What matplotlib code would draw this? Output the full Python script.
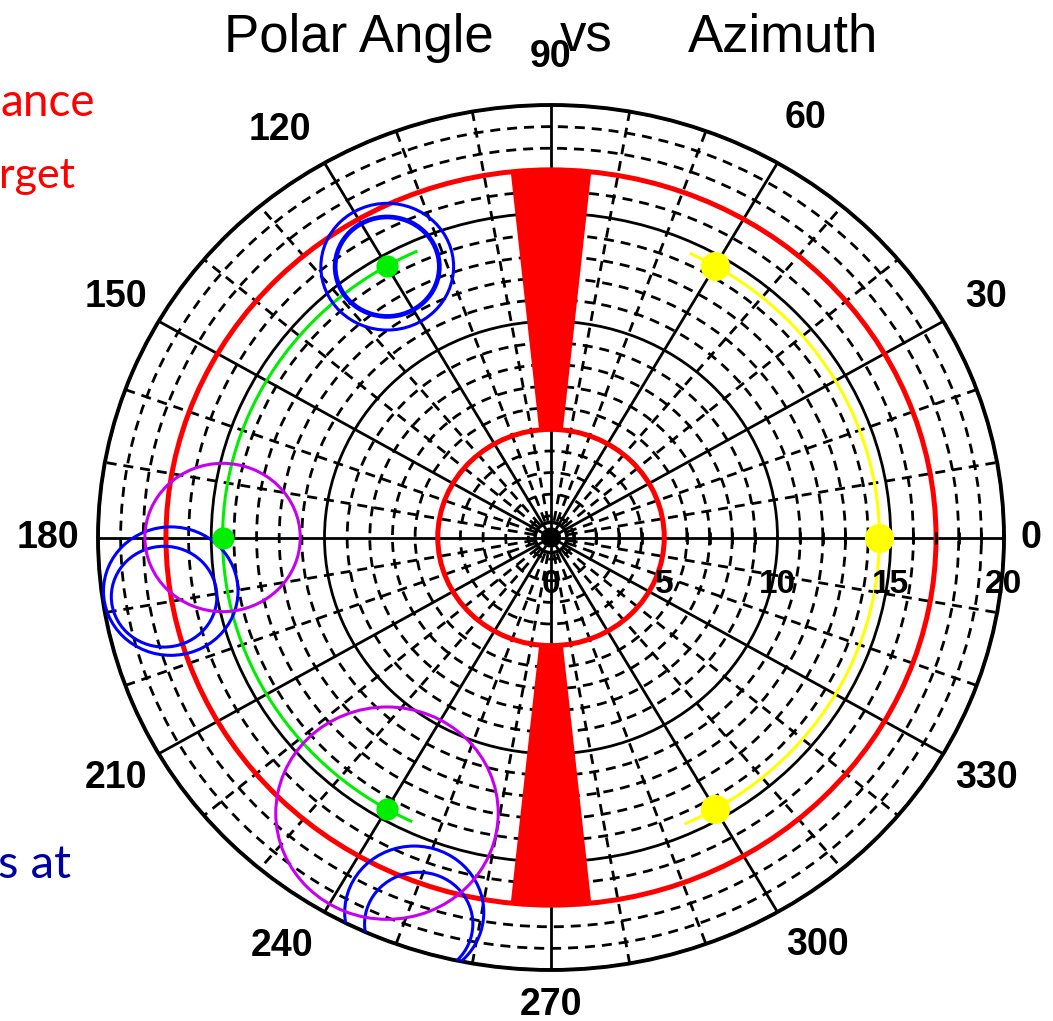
import numpy as np
import matplotlib
matplotlib.use("Agg")
import matplotlib.pyplot as plt
from matplotlib.patches import Circle, Arc
from matplotlib.ticker import FixedLocator
from matplotlib.transforms import offset_copy

# grid values
R_MAX = 20
major_r = [5, 10, 15, 20]
minor_r = [1, 2, 3, 4, 6, 7, 8, 9, 11, 12, 13, 14, 16, 17, 18, 19]
major_theta = [0, 30, 60, 90, 120, 150, 180, 210, 240, 270, 300, 330]
minor_theta = [a for a in range(0, 360, 10) if a % 30]
radial_labels = [0, 5, 10, 15, 20]

# acceptance (red)
red_ring_r = [5, 17]
gap_theta = [90, 270]
gap_inner, gap_outer, gap_width = 5, 17, 12

# tracks
green_theta = [120, 180, 240]
green_r = [14.5, 14.5, 14.5]
green_arc = (114, 245)
yellow_theta = [60, 0, 300]
yellow_r = [14.5, 14.5, 14.5]
yellow_arc = (-66, 65)
arc_r = 14.5

# circles: (theta deg, r, radius)
blue_theta = [120, 120, 188.4, 189.1, 250.8, 251.9]
blue_r = [14.46, 14.46, 16.97, 17.3, 18.36, 18.8]
blue_size = [2.93, 2.3, 2.97, 2.33, 3.07, 2.39]
blue_lw = [2.2, 3.4, 2.2, 2.2, 2.2, 2.2]
purple_theta = [180, 240.4]
purple_r = [14.5, 14.66]
purple_size = [3.43, 4.91]

W, H = 1053, 1021
fig = plt.figure(figsize=(W / 100, H / 100), dpi=100)
cx, cy, rx, ry = 551, 537.5, 453, 432.5
ax = fig.add_axes([(cx - rx) / W, (H - cy - ry) / H, 2 * rx / W, 2 * ry / H],
                  projection="polar")
ax.set_aspect("auto")
ax.set_ylim(0, R_MAX)
ax.set_axisbelow(True)

ax.set_xticks(np.deg2rad(major_theta))
ax.xaxis.set_minor_locator(FixedLocator(np.deg2rad(minor_theta)))
ax.set_yticks(major_r)
ax.yaxis.set_minor_locator(FixedLocator(minor_r))
ax.set_xticklabels([])
ax.set_yticklabels([])
ax.tick_params(which="both", length=0)
ax.grid(which="major", color="k", lw=2.0, ls="-")
ax.grid(which="minor", color="k", lw=2.0, ls=(0, (3.6, 2.5)))
ax.spines["polar"].set_linewidth(2.8)


def to_axes(theta, r):
    t = np.deg2rad(theta)
    return 0.5 + r * np.cos(t) / (2 * R_MAX), 0.5 + r * np.sin(t) / (2 * R_MAX)


# red gaps and rings
ax.bar(np.deg2rad(gap_theta), gap_outer - gap_inner, width=np.deg2rad(gap_width),
       bottom=gap_inner, color="red", edgecolor="none", zorder=2)
for r in red_ring_r:
    ax.add_patch(Circle((0.5, 0.5), r / (2 * R_MAX), transform=ax.transAxes,
                        fill=False, color="red", lw=3.6, zorder=3))

# small ring at centre
ax.add_patch(Circle((0.5, 0.5), 0.7 / (2 * R_MAX), transform=ax.transAxes,
                    fill=False, color="k", lw=2.5, zorder=3))
ax.plot(np.zeros(len(minor_r)), minor_r, ls="none", marker="|", ms=9, mew=2,
        color="k", zorder=3)

# track arcs
d = arc_r / R_MAX
ax.add_patch(Arc((0.5, 0.5), d, d, theta1=green_arc[0], theta2=green_arc[1],
                 transform=ax.transAxes, color="#00ee00", lw=2.2, zorder=4))
ax.add_patch(Arc((0.5, 0.5), d, d, theta1=yellow_arc[0], theta2=yellow_arc[1],
                 transform=ax.transAxes, color="#ffff00", lw=2.2, zorder=4))
ax.plot(np.deg2rad(green_theta), green_r, "o", color="#00ee00", ms=16, mec="none",
        zorder=6)
ax.plot(np.deg2rad(yellow_theta), yellow_r, "o", color="#ffff00", ms=21, mec="none",
        zorder=6)

for t, r, s, lw in zip(blue_theta, blue_r, blue_size, blue_lw):
    ax.add_patch(Circle(to_axes(t, r), s / (2 * R_MAX), transform=ax.transAxes,
                        fill=False, color="#0000ff", lw=lw, zorder=5))
for t, r, s in zip(purple_theta, purple_r, purple_size):
    ax.add_patch(Circle(to_axes(t, r), s / (2 * R_MAX), transform=ax.transAxes,
                        fill=False, color="#c800f0", lw=2.2, zorder=5))

# labels (angle, radius) where they sit around the frame
label_place = {0: (0, 21.2), 60: (59.9, 22.4), 90: (90, 22.2), 120: (122.4, 22.3),
               240: (237.8, 22.3), 270: (270, 21.6), 300: (302.0, 22.2)}
lab_font = dict(family="Liberation Sans", fontweight="bold", color="k")
for a in major_theta:
    ta, rr = label_place.get(a, (a, 22.2))
    ax.text(np.deg2rad(ta), rr, str(a), ha="center", va="center", fontsize=27,
            clip_on=False, **lab_font)
below = offset_copy(ax.transData, fig=fig, y=-47, units="dots")
for r in radial_labels:
    ax.text(0, r, str(r), transform=below, ha="center", va="center", fontsize=24,
            clip_on=False, zorder=7, **lab_font)

# title
tfont = dict(family="Liberation Sans", fontsize=38, color="k", va="baseline")
fig.text(224 / W, 1 - 52 / H, "Polar Angle", **tfont)
fig.text(560 / W, 1 - 52 / H, "vs", **tfont)
fig.text(688 / W, 1 - 52 / H, "Azimuth", **tfont)

# slide text cut off at the left
sfont = dict(family="Lato", ha="right", va="baseline")
fig.text(95 / W, 1 - 116 / H, "ance", color="red", fontsize=33, **sfont)
fig.text(75 / W, 1 - 188 / H, "rget", color="red", fontsize=31, **sfont)
fig.text(71 / W, 1 - 878 / H, "s at", color="#0000a0", fontsize=34, **sfont)

fig.savefig("out.png", dpi=100)
